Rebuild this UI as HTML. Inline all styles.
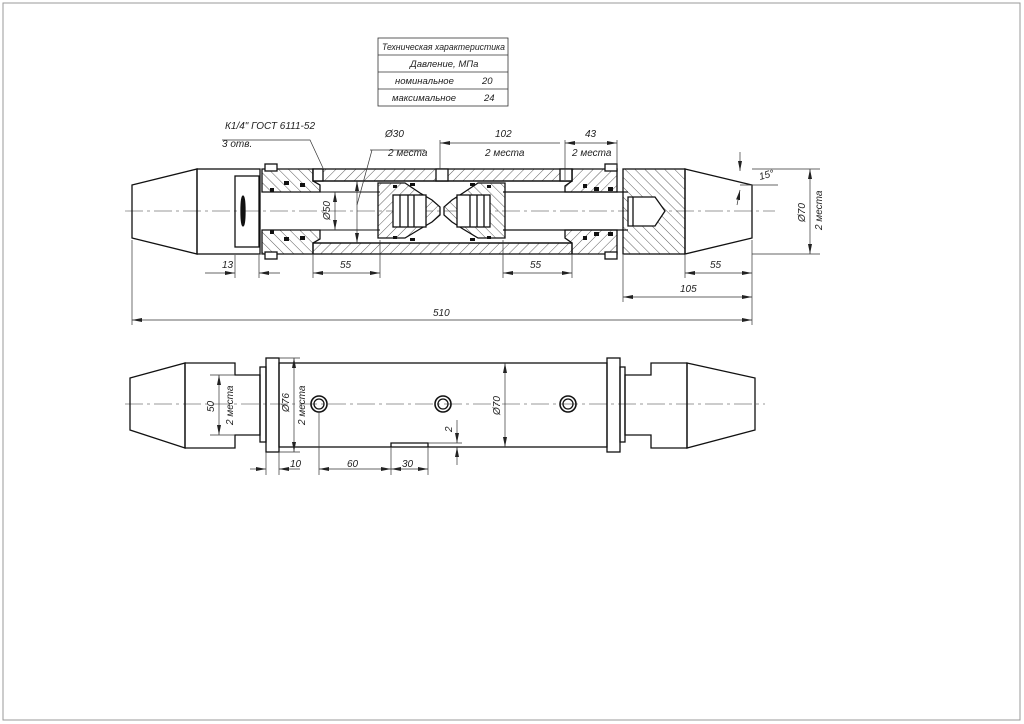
<!DOCTYPE html>
<html><head><meta charset="utf-8"><style>
html,body{margin:0;padding:0;background:#fff}
svg{display:block}
text{font-family:"Liberation Sans","DejaVu Sans",sans-serif;font-style:italic;fill:#222;font-size:10px}
.t{font-size:9.5px}
</style></head><body>
<svg width="1024" height="724" viewBox="0 0 1024 724" xmlns="http://www.w3.org/2000/svg">
<defs>
<pattern id="h" width="7" height="7" patternUnits="userSpaceOnUse" patternTransform="rotate(45)"><line x1="0" y1="0" x2="0" y2="7" stroke="#333" stroke-width="0.8"/></pattern>
<pattern id="h2" width="7" height="7" patternUnits="userSpaceOnUse" patternTransform="rotate(-45)"><line x1="0" y1="0" x2="0" y2="7" stroke="#333" stroke-width="0.8"/></pattern>
<marker id="a" viewBox="0 0 10 4" refX="10" refY="2" markerWidth="10" markerHeight="4" orient="auto-start-reverse" markerUnits="userSpaceOnUse"><path d="M0,0L10,2L0,4z" fill="#222"/></marker>
</defs>
<rect x="3" y="3" width="1017" height="717" fill="none" stroke="#999" stroke-width="1"/>

<g stroke="#333" stroke-width="0.8" fill="none">
<rect x="378" y="38" width="130" height="68"/>
<line x1="378" y1="55" x2="508" y2="55"/><line x1="378" y1="72" x2="508" y2="72"/><line x1="378" y1="89" x2="508" y2="89"/>
</g>
<text class="t" x="382" y="50" textLength="123" lengthAdjust="spacingAndGlyphs">Техническая характеристика</text>
<text class="t" x="410" y="67">Давление, МПа</text>
<text class="t" x="395" y="84">номинальное</text><text class="t" x="482" y="84">20</text>
<text class="t" x="392" y="101">максимальное</text><text class="t" x="484" y="101">24</text>

<g stroke="#111" stroke-width="1.3" fill="none">
<line x1="125" y1="211" x2="775" y2="211" stroke="#777" stroke-width="0.7" stroke-dasharray="18,4,3,4"/>
<path d="M132,185 L197,169 L197,254 L132,238 Z"/>
<rect x="197" y="169" width="63" height="85"/>
<rect x="235" y="176" width="24" height="71"/>
<ellipse cx="243" cy="211" rx="2" ry="15" fill="#111"/>
<rect x="313" y="169" width="259" height="12" fill="url(#h)"/>
<rect x="313" y="243" width="259" height="11" fill="url(#h)"/>
<rect x="313" y="169" width="10" height="12" fill="#fff"/>
<rect x="436" y="169" width="12" height="12" fill="#fff"/>
<rect x="560" y="169" width="12" height="12" fill="#fff"/>
<path d="M262,169 L313,169 L313,181 L320,185 L320,192 L262,192 Z" fill="url(#h2)"/>
<path d="M262,254 L313,254 L313,243 L320,239 L320,230 L262,230 Z" fill="url(#h2)"/>
<rect x="265" y="164" width="12" height="7" fill="#fff"/>
<rect x="265" y="252" width="12" height="7" fill="#fff"/>
<path d="M617,169 L572,169 L572,181 L565,186 L565,192 L617,192 Z" fill="url(#h)"/>
<path d="M617,254 L572,254 L572,243 L565,238 L565,230 L617,230 Z" fill="url(#h)"/>
<rect x="605" y="164" width="12" height="7" fill="#fff"/>
<rect x="605" y="252" width="12" height="7" fill="#fff"/>
<line x1="313" y1="181" x2="572" y2="181"/><line x1="313" y1="243" x2="572" y2="243"/>
<line x1="262" y1="192" x2="380" y2="192" stroke-width="1"/><line x1="262" y1="230" x2="380" y2="230" stroke-width="1"/>
<line x1="503" y1="192" x2="628" y2="192"/><line x1="503" y1="230" x2="628" y2="230"/>
<path d="M378,183 L405,183 L420,193 L432,200 L440,207 L440,215 L432,222 L420,229 L405,238 L378,238 Z" fill="url(#h)"/>
<rect x="393" y="195" width="33" height="32" fill="#fff"/>
<line x1="400" y1="195" x2="400" y2="227"/><line x1="408" y1="195" x2="408" y2="227"/><line x1="414" y1="195" x2="414" y2="227"/>
<path d="M505,183 L478,183 L463,193 L452,200 L444,207 L444,215 L452,222 L463,229 L478,238 L505,238 Z" fill="url(#h2)"/>
<rect x="457" y="195" width="33" height="32" fill="#fff"/>
<line x1="470" y1="195" x2="470" y2="227"/><line x1="477" y1="195" x2="477" y2="227"/><line x1="484" y1="195" x2="484" y2="227"/>
<rect x="623" y="169" width="62" height="85" fill="url(#h2)"/>
<path d="M628,197 L655,197 L665,211 L655,226 L628,226 Z" fill="#fff"/>
<line x1="633" y1="197" x2="633" y2="226"/>
<path d="M685,169 L752,185 L752,238 L685,254 Z"/>
</g>
<g fill="#111">
<rect x="284" y="181" width="5" height="4"/><rect x="300" y="183" width="5" height="4"/><rect x="270" y="188" width="4" height="4"/>
<rect x="284" y="237" width="5" height="4"/><rect x="300" y="236" width="5" height="4"/><rect x="270" y="230" width="4" height="4"/>
<rect x="594" y="187" width="5" height="4"/><rect x="608" y="187" width="5" height="4"/><rect x="583" y="184" width="4" height="4"/>
<rect x="594" y="232" width="5" height="4"/><rect x="608" y="232" width="5" height="4"/><rect x="583" y="236" width="4" height="4"/>
<rect x="393" y="185" width="4" height="3"/><rect x="410" y="183" width="5" height="3"/><rect x="393" y="236" width="4" height="3"/><rect x="410" y="238" width="5" height="3"/>
<rect x="487" y="185" width="4" height="3"/><rect x="470" y="183" width="5" height="3"/><rect x="487" y="236" width="4" height="3"/><rect x="470" y="238" width="5" height="3"/>
</g>

<g stroke="#333" stroke-width="0.7" fill="none">
<path d="M222,140 L310,140 L323,168"/>
<path d="M370,150 L425,150"/><line x1="372" y1="150" x2="357" y2="205"/>
<line x1="440" y1="143" x2="560" y2="143" marker-start="url(#a)"/>
<line x1="440" y1="140" x2="440" y2="169"/>
<line x1="565" y1="143" x2="617" y2="143" marker-start="url(#a)" marker-end="url(#a)"/>
<line x1="565" y1="140" x2="565" y2="180"/><line x1="617" y1="140" x2="617" y2="168"/>
<line x1="335" y1="192" x2="335" y2="230" marker-start="url(#a)" marker-end="url(#a)"/>
<line x1="357" y1="181" x2="357" y2="243" marker-start="url(#a)" marker-end="url(#a)"/>
<line x1="235" y1="255" x2="235" y2="278"/><line x1="259" y1="255" x2="259" y2="278"/>
<line x1="205" y1="273" x2="235" y2="273" marker-end="url(#a)"/><line x1="259" y1="273" x2="280" y2="273" marker-start="url(#a)"/>
<line x1="313" y1="255" x2="313" y2="278"/><line x1="380" y1="240" x2="380" y2="278"/>
<line x1="313" y1="273" x2="380" y2="273" marker-start="url(#a)" marker-end="url(#a)"/>
<line x1="503" y1="240" x2="503" y2="278"/><line x1="572" y1="255" x2="572" y2="278"/>
<line x1="503" y1="273" x2="572" y2="273" marker-start="url(#a)" marker-end="url(#a)"/>
<line x1="685" y1="255" x2="685" y2="278"/><line x1="752" y1="240" x2="752" y2="325"/>
<line x1="685" y1="273" x2="752" y2="273" marker-start="url(#a)" marker-end="url(#a)"/>
<line x1="623" y1="255" x2="623" y2="302"/>
<line x1="623" y1="297" x2="752" y2="297" marker-start="url(#a)" marker-end="url(#a)"/>
<line x1="132" y1="240" x2="132" y2="325"/>
<line x1="132" y1="320" x2="752" y2="320" marker-start="url(#a)" marker-end="url(#a)"/>
<line x1="752" y1="169" x2="820" y2="169"/><line x1="752" y1="254" x2="820" y2="254"/>
<line x1="810" y1="169" x2="810" y2="254" marker-start="url(#a)" marker-end="url(#a)"/>
<line x1="740" y1="185" x2="778" y2="185"/><line x1="740" y1="152" x2="740" y2="171" marker-end="url(#a)"/><line x1="737" y1="205" x2="740" y2="190" marker-end="url(#a)"/>
</g>
<text x="225" y="129">К1/4" ГОСТ 6111-52</text>
<text x="222" y="147">3 отв.</text>
<text x="385" y="137">Ø30</text><text x="388" y="156">2 места</text>
<text x="495" y="137">102</text><text x="485" y="156">2 места</text>
<text x="585" y="137">43</text><text x="572" y="156">2 места</text>
<text x="760" y="180" transform="rotate(-15 760 180)">15°</text>
<text x="222" y="268">13</text>
<text x="340" y="268">55</text><text x="530" y="268">55</text><text x="710" y="268">55</text>
<text x="680" y="292">105</text><text x="433" y="316">510</text>
<text transform="translate(330,220) rotate(-90)">Ø50</text>
<text transform="translate(805,222) rotate(-90)">Ø70</text>
<text transform="translate(822,230) rotate(-90)">2 места</text>

<g stroke="#111" stroke-width="1.3" fill="none">
<line x1="125" y1="404" x2="765" y2="404" stroke="#777" stroke-width="0.7" stroke-dasharray="18,4,3,4"/>
<path d="M130,378 L185,363 L185,448 L130,430 Z"/>
<path d="M185,363 L235,363 L235,375 L260,375 L260,435 L235,435 L235,448 L185,448 Z"/>
<rect x="260" y="367" width="6" height="75"/>
<rect x="266" y="358" width="13" height="94"/>
<rect x="279" y="363" width="328" height="84"/>
<path d="M391,447 L391,443 L428,443 L428,447"/>
<rect x="607" y="358" width="13" height="94"/>
<rect x="620" y="367" width="5" height="75"/>
<path d="M625,375 L651,375 L651,363 L687,363 L687,448 L651,448 L651,435 L625,435 Z"/>
<path d="M687,363 L755,378 L755,430 L687,448 Z"/>
<circle cx="319" cy="404" r="8" stroke-width="1.6"/><circle cx="319" cy="404" r="5"/>
<circle cx="443" cy="404" r="8" stroke-width="1.6"/><circle cx="443" cy="404" r="5"/>
<circle cx="568" cy="404" r="8" stroke-width="1.6"/><circle cx="568" cy="404" r="5"/>
</g>
<g stroke="#333" stroke-width="0.7" fill="none">
<line x1="210" y1="375" x2="235" y2="375"/><line x1="210" y1="435" x2="235" y2="435"/>
<line x1="219" y1="375" x2="219" y2="435" marker-start="url(#a)" marker-end="url(#a)"/>
<line x1="279" y1="358" x2="300" y2="358"/><line x1="279" y1="452" x2="300" y2="452"/>
<line x1="294" y1="358" x2="294" y2="452" marker-start="url(#a)" marker-end="url(#a)"/>
<line x1="505" y1="363" x2="505" y2="447" marker-start="url(#a)" marker-end="url(#a)"/>
<line x1="428" y1="443" x2="462" y2="443"/>
<line x1="457" y1="420" x2="457" y2="443" marker-end="url(#a)"/><line x1="457" y1="465" x2="457" y2="447" marker-end="url(#a)"/>
<line x1="266" y1="452" x2="266" y2="475"/><line x1="279" y1="452" x2="279" y2="475"/>
<line x1="250" y1="469" x2="266" y2="469" marker-end="url(#a)"/><line x1="300" y1="469" x2="279" y2="469" marker-end="url(#a)"/>
<line x1="319" y1="412" x2="319" y2="475"/><line x1="391" y1="447" x2="391" y2="475"/><line x1="428" y1="447" x2="428" y2="475"/>
<line x1="319" y1="469" x2="391" y2="469" marker-start="url(#a)" marker-end="url(#a)"/>
<line x1="391" y1="469" x2="428" y2="469" marker-start="url(#a)" marker-end="url(#a)"/>
</g>
<text transform="translate(214,412) rotate(-90)">50</text>
<text transform="translate(233,425) rotate(-90)">2 места</text>
<text transform="translate(289,412) rotate(-90)">Ø76</text>
<text transform="translate(305,425) rotate(-90)">2 места</text>
<text transform="translate(500,415) rotate(-90)">Ø70</text>
<text transform="translate(452,432) rotate(-90)">2</text>
<text x="290" y="467">10</text><text x="347" y="467">60</text><text x="402" y="467">30</text>
</svg>
</body></html>
